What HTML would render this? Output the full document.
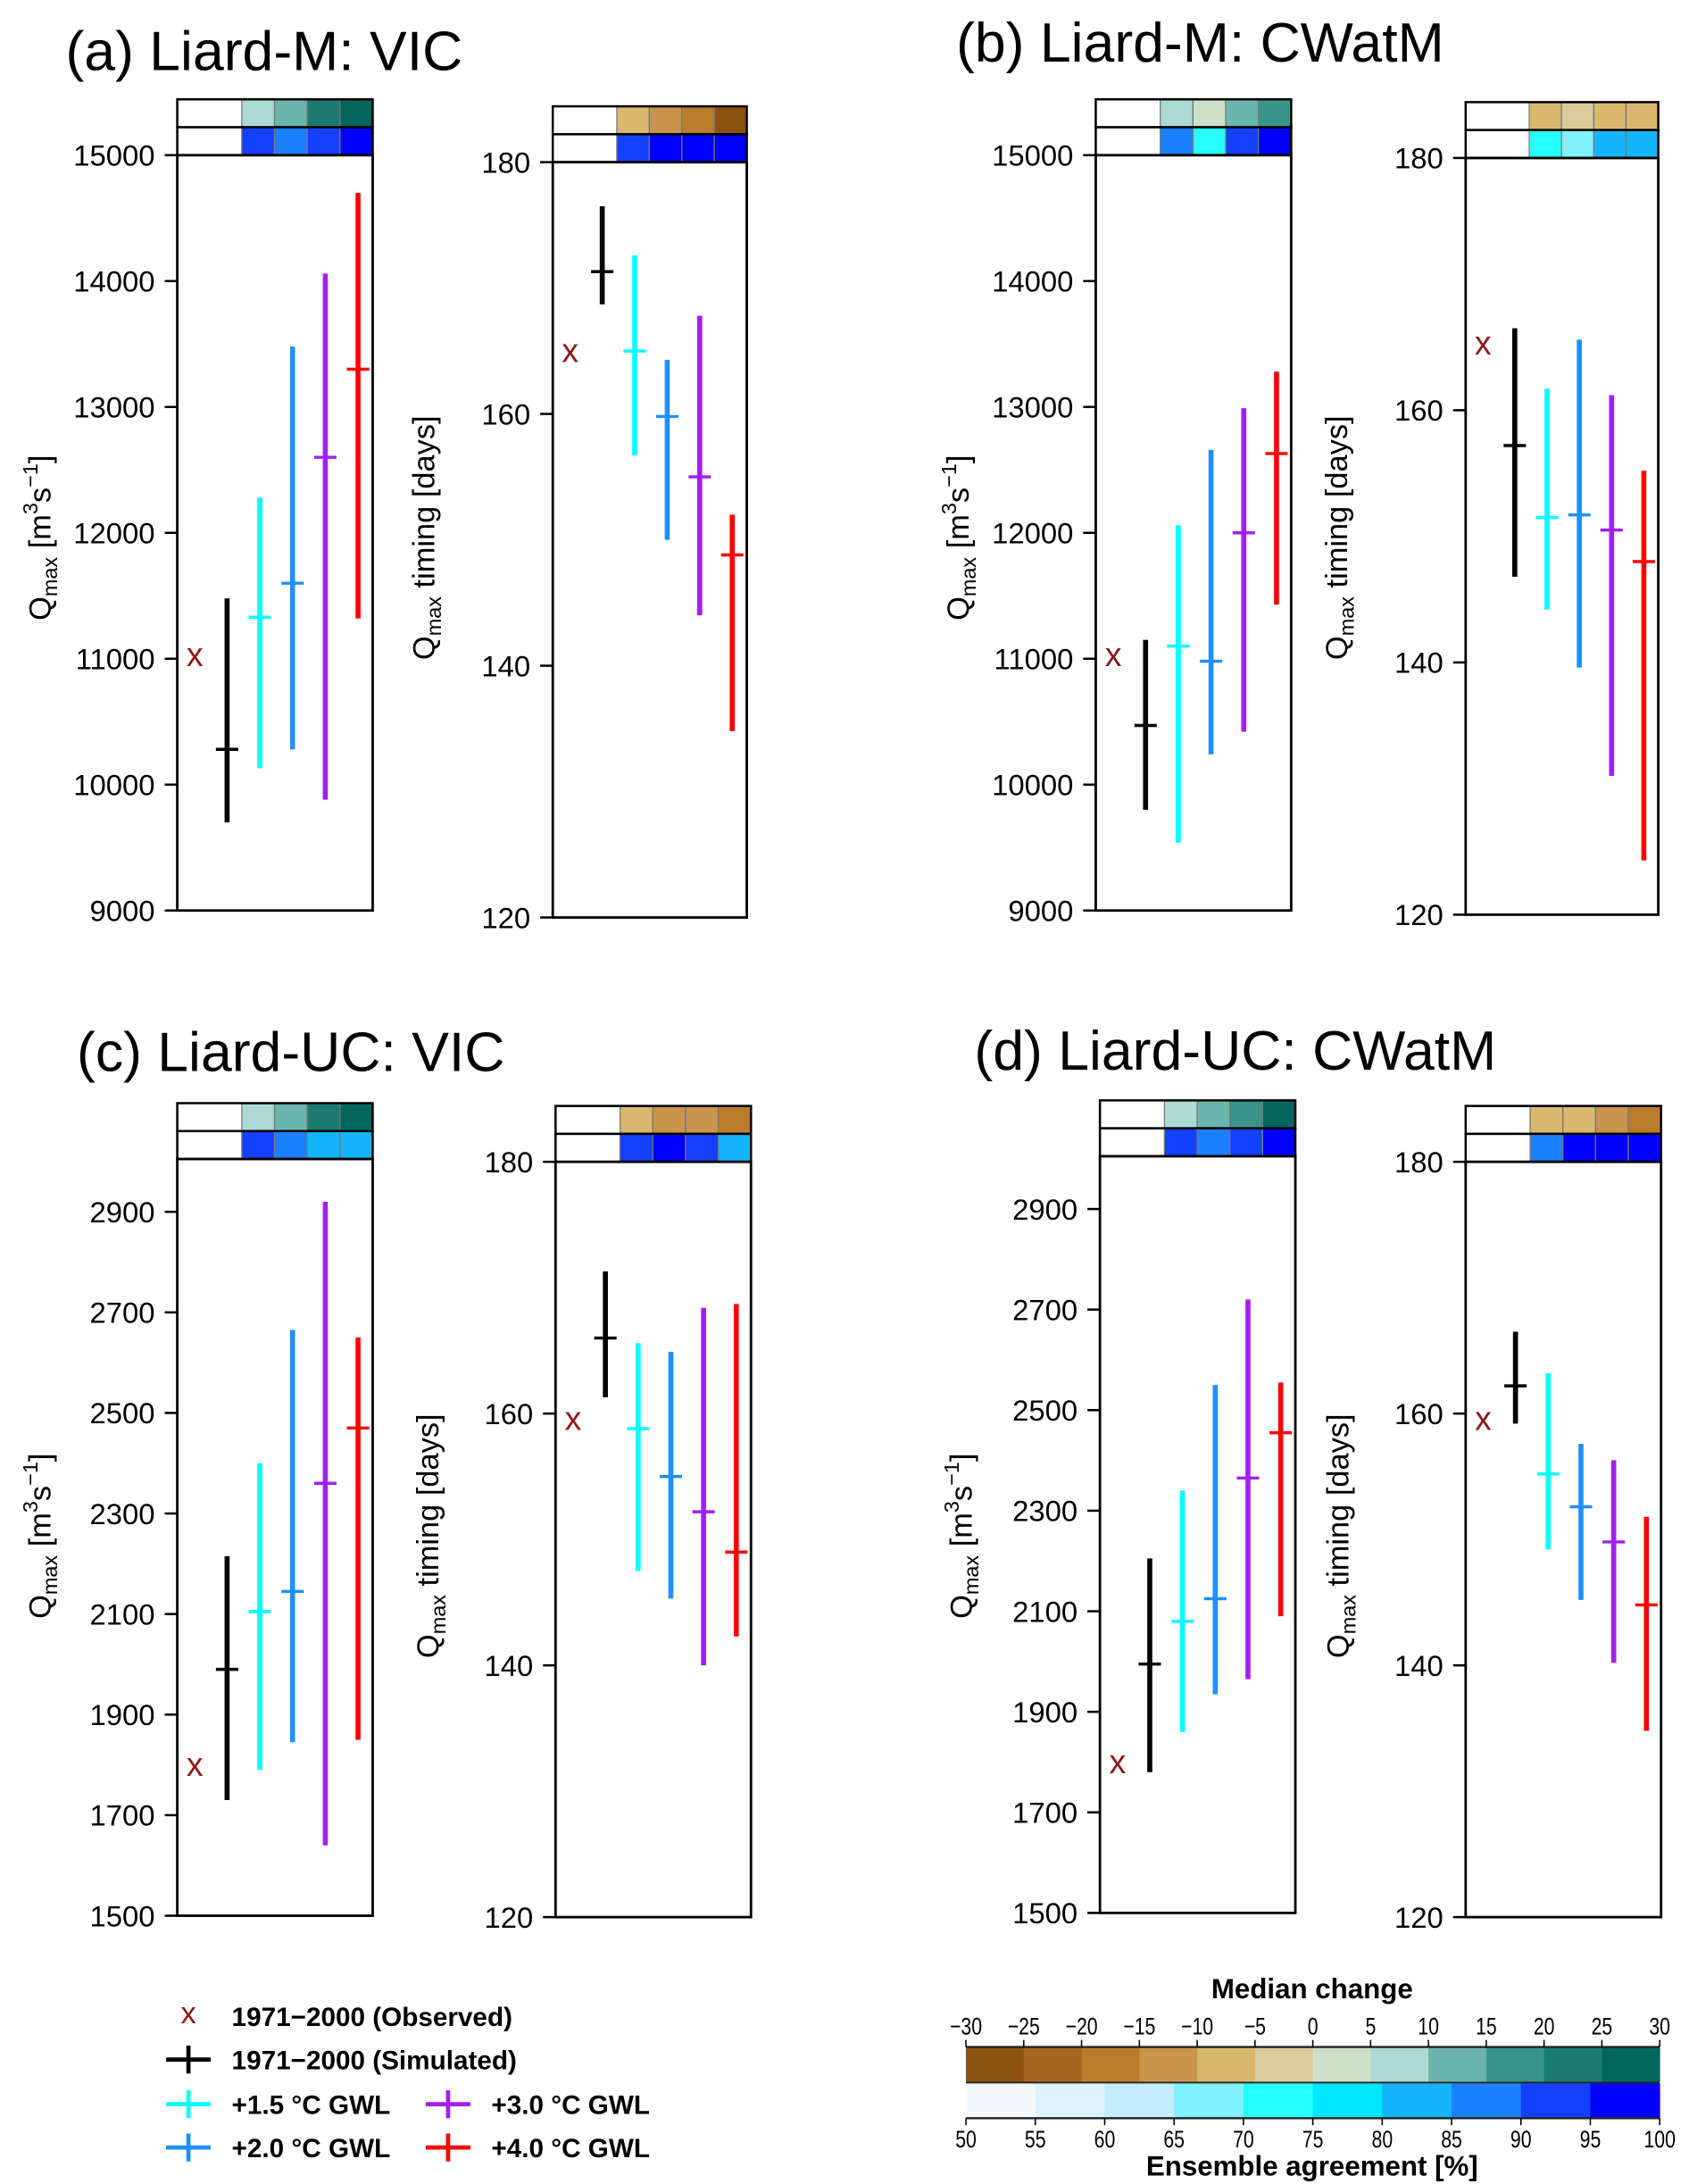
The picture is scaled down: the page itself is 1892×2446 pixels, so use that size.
<!DOCTYPE html>
<html><head><meta charset="utf-8"><style>
html,body{margin:0;padding:0;background:#fff}
svg{display:block}
text{font-family:"Liberation Sans",sans-serif}
</style></head>
<body>
<svg id="fig" width="1892" height="2446" viewBox="0 0 1210 1564" xmlns="http://www.w3.org/2000/svg">
<g id="root"></g>
</svg>
<script>
// ---- data ----
const seriesNames=["1971-2000 (Simulated)","+1.5 °C GWL","+2.0 °C GWL","+3.0 °C GWL","+4.0 °C GWL"];
const seriesColors=["#000000","#00ffff","#1e90ff","#a020f0","#ff0000"];
// panel a
const aFlowObs=11030, aFlowLow=[9700,10130,10280,9880,11320], aFlowMed=[10280,11330,11600,12600,13300], aFlowHigh=[11480,12280,13480,14060,14700];
const aTimeObs=165, aTimeLow=[168.7,156.7,150,144,134.8], aTimeMed=[171.3,165,159.8,155,148.8], aTimeHigh=[176.5,172.6,164.3,167.8,152];
// panel b
const bFlowObs=11030, bFlowLow=[9800,9540,10240,10420,11430], bFlowMed=[10470,11100,10980,12000,12630], bFlowHigh=[11150,12060,12660,12990,13280];
const bTimeObs=165.3, bTimeLow=[146.8,144.2,139.6,131,124.3], bTimeMed=[157.2,151.5,151.7,150.5,148], bTimeHigh=[166.5,161.7,165.6,161.2,155.2];
// panel c
const cFlowObs=1800, cFlowLow=[1730,1790,1845,1640,1850], cFlowMed=[1990,2105,2145,2360,2470], cFlowHigh=[2215,2400,2665,2920,2650];
const cTimeObs=159.6, cTimeLow=[161.3,147.5,145.3,140,142.3], cTimeMed=[166,158.8,155,152.2,149], cTimeHigh=[171.3,165.6,164.9,168.4,168.7];
// panel d
const dFlowObs=1800, dFlowLow=[1780,1860,1935,1965,2090], dFlowMed=[1995,2080,2125,2365,2455], dFlowHigh=[2205,2340,2550,2720,2555];
const dTimeObs=159.6, dTimeLow=[159.2,149.2,145.2,140.2,134.8], dTimeMed=[162.2,155.2,152.6,149.8,144.8], dTimeHigh=[166.5,163.2,157.6,156.3,151.8];
// tick labels
const flowTicksM=[9000,10000,11000,12000,13000,14000,15000];
const flowTicksUC=[1500,1700,1900,2100,2300,2500,2700,2900];
const timeTicks=[120,140,160,180];
// header colour cells (median change / agreement)
const aFlowHdr=[["#acd9d3","#6bb5ac","#1a7b71","#02665e"],["#1440ff","#1b80ff","#1440ff","#0000ff"]];
const aTimeHdr=[["#d8b76e","#c9954a","#b97b2c","#8c5212"],["#1440ff","#0000ff","#0000ff","#0000ff"]];
const bFlowHdr=[["#acd9d3","#cfe0c8","#6bb5ac","#379488"],["#1b80ff","#27ffff","#1440ff","#0000ff"]];
const bTimeHdr=[["#d8b76e","#d9cc9a","#d8b76e","#d8b76e"],["#27ffff","#80f2ff","#14b4ff","#14b4ff"]];
const cFlowHdr=[["#acd9d3","#6bb5ac","#1a7b71","#02665e"],["#1440ff","#1b80ff","#14b4ff","#14b4ff"]];
const cTimeHdr=[["#d8b76e","#c9954a","#c9954a","#b97b2c"],["#1440ff","#0000ff","#1440ff","#14b4ff"]];
const dFlowHdr=[["#acd9d3","#6bb5ac","#379488","#02665e"],["#1440ff","#1b80ff","#1440ff","#0000ff"]];
const dTimeHdr=[["#d8b76e","#d8b76e","#c9954a","#b97b2c"],["#1b80ff","#0000ff","#0000ff","#0000ff"]];
// colorbar
const medianTicks=[-30,-25,-20,-15,-10,-5,0,5,10,15,20,25,30];
const medianColors=["#8c5212","#a5661d","#b97b2c","#c9954a","#d8b76e","#d9cc9a","#cfe0c8","#acd9d3","#6bb5ac","#379488","#1a7b71","#02665e"];
const agreeTicks=[50,55,60,65,70,75,80,85,90,95,100];
const agreeColors=["#f5faff","#def3ff","#c5ecff","#80f2ff","#27ffff","#00e8ff","#14b4ff","#1b80ff","#1440ff","#0000ff"];

const NS="http://www.w3.org/2000/svg";
const root=document.getElementById('root');
function mk(tag,attrs,parent,txt){const e=document.createElementNS(NS,tag);for(const k in attrs)e.setAttribute(k,attrs[k]);if(txt!==undefined)e.textContent=txt;(parent||root).appendChild(e);return e;}

function subplot(cfg){
  const g=mk('g',{});
  
  
  const {x0,x1,yTop,yBot,vmin,vmax}=cfg;
  const sy=v=>yBot-(v-vmin)/(vmax-vmin)*(yBot-yTop);
  const w=x1-x0, firstW=w*0.33, cw=(w-firstW)/4;
  const hdr=mk('g',{},g);
  
  
  for(let r=0;r<2;r++){
    const y=yTop-40+r*20;
    mk('rect',{x:x0,y:y,width:firstW,height:20,fill:'#fff'},hdr);
    cfg.hdr[r].forEach((c,i)=>{
      const cell=mk('rect',{x:x0+firstW+i*cw,y:y,width:cw,height:20,fill:c,stroke:'#777','stroke-width':0.8},hdr);
      
      
    });
    mk('rect',{x:x0,y:y,width:w,height:20,fill:'none',stroke:'#000','stroke-width':1.6},hdr);
  }
  const box=mk('rect',{x:x0,y:yTop,width:w,height:yBot-yTop,fill:'none',stroke:'#000','stroke-width':1.8},g);
  
  
  cfg.ticks.forEach(t=>{
    const y=sy(t);
    mk('line',{x1:x0-9,x2:x0,y1:y,y2:y,stroke:'#000','stroke-width':1.6},g);
    const tl=mk('text',{x:x0-16,y:y+7.5,'font-size':21,'text-anchor':'end',fill:'#000'},g,String(t));
    
    
  });
  const lab=mk('text',{transform:`translate(${cfg.labX},${cfg.labY}) rotate(-90)`,'font-size':22,'text-anchor':'middle',fill:'#000'},g);
  
  
  mk('tspan',{},lab,'Q');
  mk('tspan',{dy:5,'font-size':15},lab,'max');
  if(cfg.flow){
    mk('tspan',{dy:-5},lab,' [m');
    mk('tspan',{dy:-9,'font-size':15},lab,'3');
    mk('tspan',{dy:9},lab,'s');
    mk('tspan',{dy:-9,'font-size':15},lab,'\u22121');
    mk('tspan',{dy:9},lab,']');
  } else {
    mk('tspan',{dy:-5},lab,' timing [days]');
  }
  const ox=x0+w*0.09, oy=sy(cfg.obs);
  const ob=mk('text',{x:ox,y:oy+8,'font-size':24,'text-anchor':'middle',fill:'#8b1a1a'},g,'x');
  
  
  for(let i=0;i<5;i++){
    const x=x0+w*(0.255+i*0.1675);
    const s=mk('g',{},g);
    
    
    mk('line',{x1:x,x2:x,y1:sy(cfg.low[i]),y2:sy(cfg.high[i]),stroke:seriesColors[i],'stroke-width':3.6},s);
    mk('line',{x1:x-8,x2:x+8,y1:sy(cfg.med[i]),y2:sy(cfg.med[i]),stroke:seriesColors[i],'stroke-width':2.2},s);
  }
}
function title(x,y,t,name){const e=mk('text',{x:x,y:y,'font-size':40,fill:'#000'},root,t);}

title(47,50,'(a) Liard-M: VIC','title-panel-a');
title(685,44,'(b) Liard-M: CWatM','title-panel-b');
title(55,767,'(c) Liard-UC: VIC','title-panel-c');
title(698,766,'(d) Liard-UC: CWatM','title-panel-d');

subplot({name:'panel-a-qmax',x0:127,x1:267,yTop:111,yBot:652,vmin:9000,vmax:15000,ticks:flowTicksM,obs:aFlowObs,low:aFlowLow,med:aFlowMed,high:aFlowHigh,hdr:aFlowHdr,flow:true,labX:36,labY:385});
subplot({name:'panel-a-timing',x0:396,x1:535,yTop:116,yBot:657,vmin:120,vmax:180,ticks:timeTicks,obs:aTimeObs,low:aTimeLow,med:aTimeMed,high:aTimeHigh,hdr:aTimeHdr,flow:false,labX:311,labY:385});
subplot({name:'panel-b-qmax',x0:785,x1:925,yTop:111,yBot:652,vmin:9000,vmax:15000,ticks:flowTicksM,obs:bFlowObs,low:bFlowLow,med:bFlowMed,high:bFlowHigh,hdr:bFlowHdr,flow:true,labX:694,labY:385});
subplot({name:'panel-b-timing',x0:1050,x1:1188,yTop:113,yBot:655,vmin:120,vmax:180,ticks:timeTicks,obs:bTimeObs,low:bTimeLow,med:bTimeMed,high:bTimeHigh,hdr:bTimeHdr,flow:false,labX:965,labY:385});
subplot({name:'panel-c-qmax',x0:127,x1:267,yTop:830,yBot:1372,vmin:1500,vmax:3005,ticks:flowTicksUC,obs:cFlowObs,low:cFlowLow,med:cFlowMed,high:cFlowHigh,hdr:cFlowHdr,flow:true,labX:36,labY:1100});
subplot({name:'panel-c-timing',x0:398,x1:538,yTop:832,yBot:1373,vmin:120,vmax:180,ticks:timeTicks,obs:cTimeObs,low:cTimeLow,med:cTimeMed,high:cTimeHigh,hdr:cTimeHdr,flow:false,labX:314,labY:1100});
subplot({name:'panel-d-qmax',x0:788,x1:928,yTop:828,yBot:1370,vmin:1500,vmax:3005,ticks:flowTicksUC,obs:dFlowObs,low:dFlowLow,med:dFlowMed,high:dFlowHigh,hdr:dFlowHdr,flow:true,labX:696,labY:1100});
subplot({name:'panel-d-timing',x0:1050,x1:1190,yTop:832,yBot:1373,vmin:120,vmax:180,ticks:timeTicks,obs:dTimeObs,low:dTimeLow,med:dTimeMed,high:dTimeHigh,hdr:dTimeHdr,flow:false,labX:966,labY:1100});

// legend
const leg=mk('g',{});


const lo=mk('text',{x:135,y:1449,'font-size':22,'text-anchor':'middle',fill:'#8b1a1a'},leg,'x');


mk('text',{x:166,y:1451,'font-size':19,'font-weight':'bold',fill:'#000'},leg,'1971\u22122000 (Observed)');
const legItems=[[135,1475,166,'1971\u22122000 (Simulated)',0],[135,1507,166,'+1.5 \u00b0C GWL',1],[135,1538,166,'+2.0 \u00b0C GWL',2],[321,1507,352,'+3.0 \u00b0C GWL',3],[321,1538,352,'+4.0 \u00b0C GWL',4]];
legItems.forEach(it=>{
  const e=mk('g',{},leg);
  
  
  const c=seriesColors[it[4]];
  mk('line',{x1:it[0]-16,x2:it[0]+16,y1:it[1],y2:it[1],stroke:c,'stroke-width':3},e);
  mk('line',{x1:it[0],x2:it[0],y1:it[1]-10,y2:it[1]+10,stroke:c,'stroke-width':3},e);
  mk('text',{x:it[2],y:it[1]+7,'font-size':19,'font-weight':'bold',fill:'#000'},e,it[3]);
});

// colorbar
const cb=mk('g',{});


const cbx0=692,cbx1=1189;
const mt=mk('text',{x:940,y:1431,'font-size':20,'font-weight':'bold','text-anchor':'middle',fill:'#000'},cb,'Median change');


const mw=(cbx1-cbx0)/medianColors.length;
medianColors.forEach((c,i)=>{mk('rect',{x:cbx0+i*mw,y:1466,width:mw+0.3,height:25,fill:c},cb);});
const aw=(cbx1-cbx0)/agreeColors.length;
agreeColors.forEach((c,i)=>{mk('rect',{x:cbx0+i*aw,y:1492,width:aw+0.3,height:25,fill:c},cb);});
mk('line',{x1:cbx0,x2:cbx1,y1:1466,y2:1466,stroke:'#222','stroke-width':1.5},cb);
mk('line',{x1:cbx0,x2:cbx1,y1:1491.5,y2:1491.5,stroke:'#222','stroke-width':1.2},cb);
mk('line',{x1:cbx0,x2:cbx1,y1:1517,y2:1517,stroke:'#222','stroke-width':1.5},cb);
medianTicks.forEach((t,i)=>{
  const x=cbx0+(t+30)/60*(cbx1-cbx0);
  mk('line',{x1:x,x2:x,y1:1461,y2:1466,stroke:'#000','stroke-width':1},cb);
  mk('text',{transform:`translate(${x},1457) scale(0.8,1)`,'font-size':17,'text-anchor':'middle',fill:'#000'},cb,t<0?'\u2212'+(-t):String(t));
});
agreeTicks.forEach(t=>{
  const x=cbx0+(t-50)/50*(cbx1-cbx0);
  mk('line',{x1:x,x2:x,y1:1517,y2:1522,stroke:'#000','stroke-width':1},cb);
  mk('text',{transform:`translate(${x},1538) scale(0.8,1)`,'font-size':17,'text-anchor':'middle',fill:'#000'},cb,String(t));
});
const at=mk('text',{x:940,y:1558,'font-size':20,'font-weight':'bold','text-anchor':'middle',fill:'#000'},cb,'Ensemble agreement [%]');


</script>
</body></html>
